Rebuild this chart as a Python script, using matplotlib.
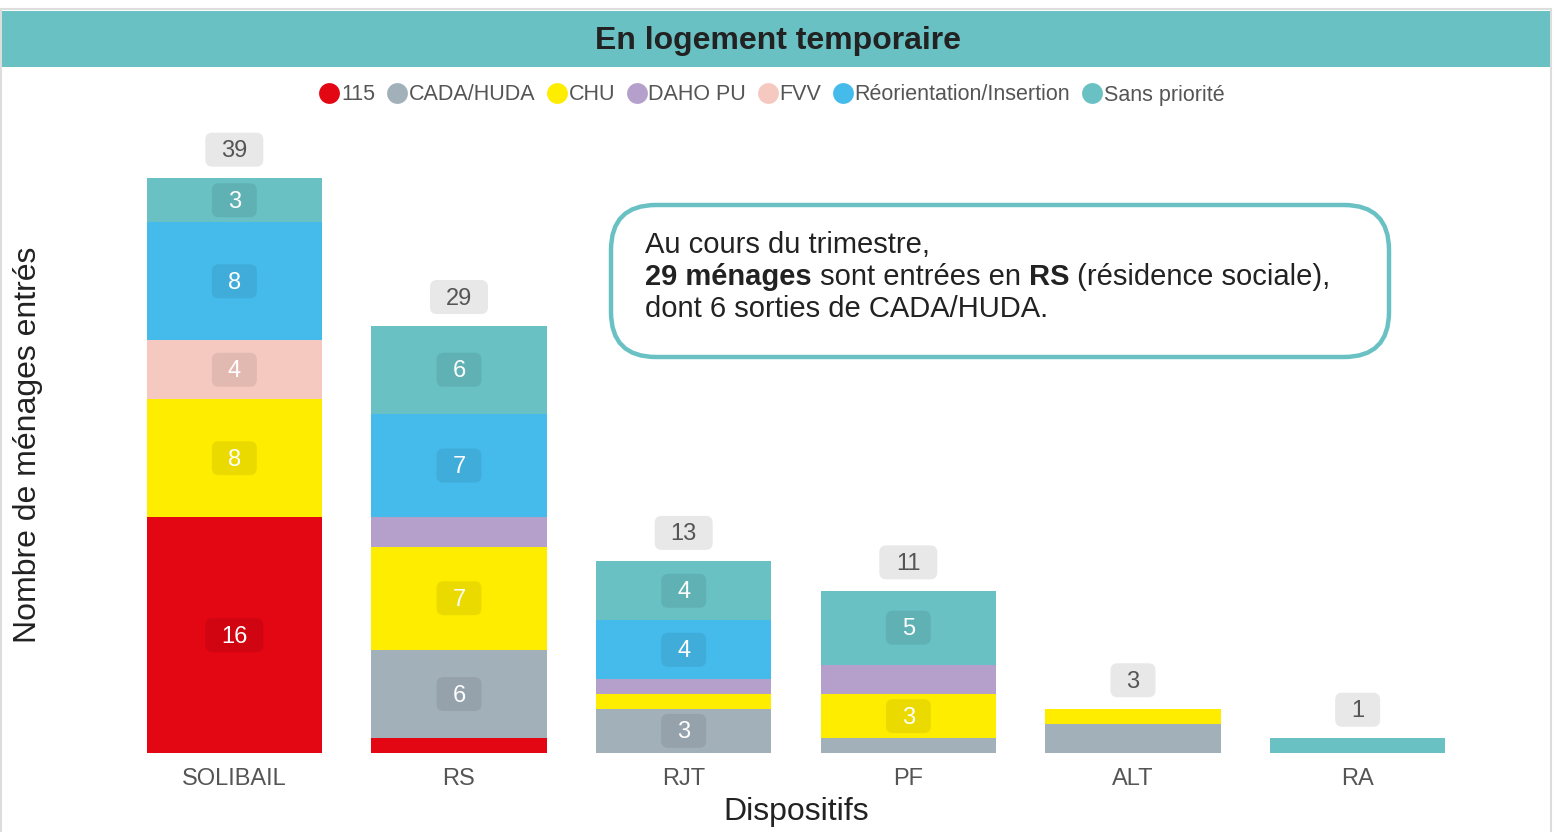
import matplotlib.pyplot as plt
from matplotlib.patches import FancyBboxPatch, Rectangle
from matplotlib.lines import Line2D
from matplotlib.transforms import IdentityTransform

plt.rcParams['font.family'] = ['Liberation Sans', 'DejaVu Sans']

categories = ["SOLIBAIL", "RS", "RJT", "PF", "ALT", "RA"]
series_names = ["115", "CADA/HUDA", "CHU", "DAHO PU", "FVV", "Réorientation/Insertion", "Sans priorité"]
v_115 = [16, 1, 0, 0, 0, 0]
v_cada = [0, 6, 3, 1, 2, 0]
v_chu = [8, 7, 1, 3, 1, 0]
v_daho = [0, 2, 1, 2, 0, 0]
v_fvv = [4, 0, 0, 0, 0, 0]
v_reo = [8, 7, 4, 0, 0, 0]
v_sans = [3, 6, 4, 5, 0, 1]
series_values = [v_115, v_cada, v_chu, v_daho, v_fvv, v_reo, v_sans]
colors = ["#E30613", "#A2B0BA", "#FFED00", "#B4A0CB", "#F5C9BF", "#45BBEC", "#69C1C4"]

title = "En logement temporaire"
xlabel = "Dispositifs"
ylabel = "Nombre de ménages entrés"

W, H = 1563, 832
fig = plt.figure(figsize=(W / 100, H / 100), dpi=100)
ax = fig.add_axes([122 / W, (H - 753) / H, (1470 - 122) / W, (753 - 120) / H])


def rbox(px, py, w, h, fc, r=7):
    p = FancyBboxPatch((px - w / 2, py - h / 2), w, h,
                       boxstyle=f"round,pad=0,rounding_size={r}",
                       transform=IdentityTransform(), fc=fc, ec='none', zorder=2)
    fig.add_artist(p)


# frame + title band
fig.add_artist(Rectangle((1, -5), W - 13, H - 9 + 5, transform=IdentityTransform(),
                         fc='none', ec='#DDDDDD', lw=1.5, zorder=0))
fig.add_artist(Rectangle((2, H - 67), W - 15, 56, transform=IdentityTransform(),
                         fc='#69C1C4', ec='none', zorder=0))
fig.text(778 / W, 1 - 41 / H, title, ha='center', va='center', fontsize=23,
         fontweight='bold', color='#222222')

x = list(range(len(categories)))
bottoms = [0] * len(categories)
for vals, col in zip(series_values, colors):
    ax.bar(x, vals, bottom=bottoms, width=0.78, color=col, zorder=1)
    bottoms = [b + v for b, v in zip(bottoms, vals)]

ax.set_xlim(-0.5, len(categories) - 0.5)
ax.set_ylim(0, 633 / 14.74)
ax.set_xticks(x)
ax.set_xticklabels(categories, fontsize=17, color='#555555')
ax.tick_params(axis='x', length=0, pad=10.5)
ax.set_yticks([])
for s in ax.spines.values():
    s.set_visible(False)
ax.set_xlabel(xlabel, fontsize=23, color='#222222', labelpad=5.5)
fig.text(28 / W, 1 - 445 / H, ylabel, rotation=90, ha='center', va='center',
         fontsize=23, color='#222222')

# segment labels
bottoms = [0] * len(categories)
for vals in series_values:
    for i, v in enumerate(vals):
        if v >= 3:
            px, py = ax.transData.transform((i, bottoms[i] + v / 2))
            w = 45 if v < 10 else 58
            rbox(px, py, w, 34, (0, 0, 0, 0.08))
            fig.text(px / W, (py - 1.5) / H, str(v), ha='center', va='center', fontsize=17,
                     color='white', zorder=3)
    bottoms = [b + v for b, v in zip(bottoms, vals)]

# totals
for i, t in enumerate(bottoms):
    px, py = ax.transData.transform((i, t))
    py += 28.5
    w = 45 if t < 10 else 58
    rbox(px, py, w, 34, '#E8E8E8')
    fig.text(px / W, (py - 1.5) / H, str(t), ha='center', va='center', fontsize=17,
             color='#555555', zorder=3)

# legend
handles = [Line2D([], [], marker='o', ls='', ms=15, color=c, mec='none') for c in colors]
fig.legend(handles, series_names, loc='center', bbox_to_anchor=(772 / W, 1 - 95 / H),
           ncol=7, frameon=False, fontsize=15.5, handlelength=0.9, handletextpad=0.1,
           columnspacing=0.55, labelcolor='#555555', borderaxespad=0)

# annotation box
box = FancyBboxPatch((611, H - 357), 778, 152, boxstyle="round,pad=0,rounding_size=45",
                     transform=IdentityTransform(), fc='white', ec='#69C1C4', lw=3.2, zorder=2)
fig.add_artist(box)
tx = 645
fig.text(tx / W, (H - 253) / H, "Au cours du trimestre,", fontsize=21, color='#222222',
         va='baseline', zorder=3)
renderer = fig.canvas.get_renderer()
cur = tx
for piece, bold in [("29 ménages", True), (" sont entrées en ", False), ("RS", True),
                    (" (résidence sociale),", False)]:
    t = fig.text(cur / W, (H - 285) / H, piece, fontsize=21, color='#222222', va='baseline',
                 fontweight='bold' if bold else 'normal', zorder=3)
    cur = t.get_window_extent(renderer).x1
fig.text(tx / W, (H - 317) / H, "dont 6 sorties de CADA/HUDA.", fontsize=21, color='#222222',
         va='baseline', zorder=3)

fig.savefig("out.png", dpi=100)
